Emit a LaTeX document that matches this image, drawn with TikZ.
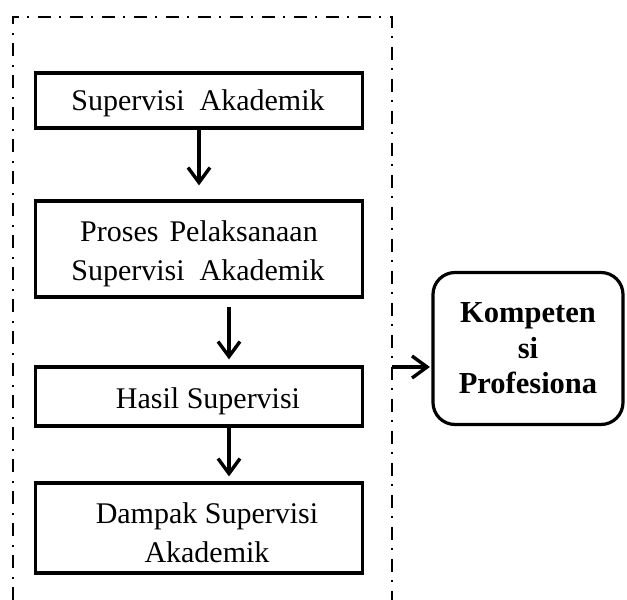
\documentclass[tikz,border=0pt]{standalone}
\usepackage{fontspec}
\setmainfont{Liberation Serif}
\usetikzlibrary{arrows.meta}
\tikzset{
  box/.style={draw, line width=3.2pt, inner sep=0pt, minimum width=327pt},
  lbl/.style={inner sep=0pt, anchor=base, font=\fontsize{30}{38}\selectfont},
  flow/.style={line width=3.2pt, -{Straight Barb[length=15pt,width=22pt,line width=3.4pt]}},
  frame/.style={line width=2.4pt, dash pattern=on 13pt off 8pt on 2pt off 9pt},
  goal/.style={draw, line width=3.2pt, rounded corners=22pt, inner sep=0pt,
    minimum width=190pt, minimum height=152pt, align=center,
    font=\fontsize{30.5}{35.5}\selectfont\bfseries}
}
\begin{document}
\begin{tikzpicture}[x=1pt,y=-1pt]
\useasboundingbox (0,0) rectangle (627,600);
% dash-dot frame (open at the bottom)
\coordinate (fbl) at (13,600);
\coordinate (ftl) at (13,17);
\coordinate (ftr) at (392,17);
\coordinate (fbr) at (392,600);
\draw[frame] (fbl) -- (ftl) -- (ftr) -- (fbr);
% boxes
\node[box, minimum height=55pt] (b1) at (199,100.5) {};
\node[box, minimum height=96pt] (b2) at (199,249) {};
\node[box, minimum height=59pt] (b3) at (199,396.5) {};
\node[box, minimum height=90pt] (b4) at (199,528) {};
% texts
\node[lbl] (t1) at (198,110) {Supervisi\hspace{15pt}Akademik};
\node[lbl] (t2a) at (199,241) {Proses\hspace{11pt}Pelaksanaan};
\node[lbl] (t2b) at (198,280) {Supervisi\hspace{15pt}Akademik};
\node[lbl] (t3) at (208,408) {Hasil Supervisi};
\node[lbl] (t4a) at (207,523) {Dampak Supervisi};
\node[lbl] (t4b) at (207,562) {Akademik};
% right goal box
\node[goal] (g) at (528,348.5) {Kompeten\\si\\Profesiona};
\coordinate (src) at (392,367);
% arrows
\draw[flow, shorten >=14pt] (b1.south) -- (b2.north);
\draw[flow, shorten <=8pt, shorten >=6pt] ([xshift=30pt]b2.south) -- ([xshift=30pt]b3.north);
\draw[flow, shorten >=5pt] ([xshift=30pt]b3.south) -- ([xshift=30pt]b4.north);
\draw[flow, shorten >=1.5pt] (src) -- (g.west |- src);
\end{tikzpicture}
\end{document}
